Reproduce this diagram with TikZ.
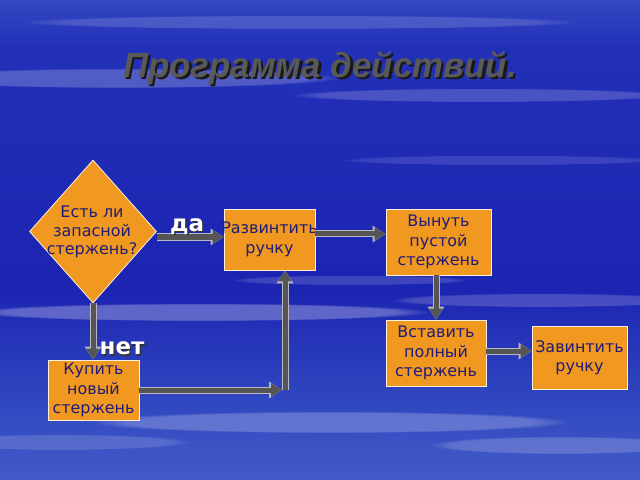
\documentclass[tikz,border=0pt]{standalone}
\usepackage{fontspec}
\setmainfont{DejaVu Sans}
\newfontfamily\titlefont{Liberation Sans}
\usetikzlibrary{shapes.geometric,arrows.meta,fadings}
\definecolor{boxfill}{HTML}{F0981F}
\definecolor{boxtext}{HTML}{201C78}
\definecolor{arrcol}{HTML}{555555}
\definecolor{arredge}{HTML}{B8B8C0}
\definecolor{sA}{HTML}{2A3AB2}
\definecolor{sB}{HTML}{4A62CA}
\definecolor{sC}{HTML}{3048C0}
\definecolor{sD}{HTML}{1C24B2}
\definecolor{sE}{HTML}{2230B8}
\definecolor{sF}{HTML}{4A68D0}
\definecolor{sG}{HTML}{6684DA}
\definecolor{sH}{HTML}{3E5CC8}
\pgfdeclareverticalshading{sky}{100bp}{color(0bp)=(sA); color(8bp)=(sB); color(22bp)=(sB); color(33bp)=(sC); color(45bp)=(sD); color(70bp)=(sE); color(82bp)=(sF); color(90bp)=(sG); color(100bp)=(sH)}
\newcommand{\shadowed}[3]{\makebox[0pt][l]{\hspace{#1}\raisebox{-#1}{\textcolor{#2}{#3}}}#3}
\tikzset{
  box/.style={rectangle, fill=boxfill, draw=white!85!boxfill, line width=0.8bp, align=center,
    text=boxtext, font=\fontsize{16}{19.5}\selectfont, inner sep=0pt},
  arr/.style={draw=arrcol, line width=5bp, -{Triangle[length=11bp,width=13bp]},
    preaction={draw=arredge, line width=7bp, -{Triangle[length=13bp,width=16bp]}}},
  lbl/.style={text=white, font=\bfseries\fontsize{23}{23}\selectfont, inner sep=0pt},
  cloud/.style={fill=white, path fading=circle with fuzzy edge 15 percent}
}
\begin{document}
\begin{tikzpicture}[x=1bp,y=-1bp]
\shade[shading=sky] (0,0) rectangle (640,480);
\useasboundingbox (0,0) rectangle (640,480);
% clouds
\fill[cloud, opacity=0.22] (120,78) ellipse (220 and 10);
\fill[cloud, opacity=0.18] (480,95) ellipse (190 and 7);
\fill[cloud, opacity=0.15] (300,22) ellipse (280 and 7);
\fill[cloud, opacity=0.12] (500,160) ellipse (160 and 5);
\fill[cloud, opacity=0.28] (200,312) ellipse (230 and 9);
\fill[cloud, opacity=0.18] (540,300) ellipse (150 and 7);
\fill[cloud, opacity=0.15] (350,280) ellipse (120 and 5);
\fill[cloud, opacity=0.22] (330,422) ellipse (240 and 11);
\fill[cloud, opacity=0.18] (560,445) ellipse (130 and 9);
\fill[cloud, opacity=0.15] (60,442) ellipse (130 and 8);
% title
\node[text=black!65, font=\titlefont\bfseries\itshape\fontsize{35}{35}\selectfont, inner sep=0pt] (title) at (320,69) {\shadowed{2.5bp}{black!90}{Программа действий.}};
% decision
\node[diamond, fill=boxfill, draw=white!85!boxfill, line width=0.8bp, minimum width=127bp, minimum height=143bp, inner sep=0pt] (d) at (93,231.5) {};
\node[align=center, text=boxtext, font=\fontsize{16}{18.5}\selectfont, inner sep=0pt] (dtext) at (92,232) {Есть ли\\запасной\\стержень?};
% boxes
\node[box, minimum width=91bp, minimum height=61bp] (razv) at (269.5,239.5) {\makebox[0pt]{Развинтить}\\ручку};
\node[box, minimum width=105bp, minimum height=66bp] (vyn) at (438.5,242) {Вынуть\\пустой\\стержень};
\node[box, minimum width=100bp, minimum height=66bp] (vst) at (436,353) {Вставить\\полный\\стержень};
\node[box, minimum width=95bp, minimum height=63bp] (zav) at (579.5,357.5) {Завинтить\\ручку};
\node[box, minimum width=91bp, minimum height=60bp] (kup) at (93.5,390) {Купить\\новый\\стержень};
\coordinate (turn) at (285,390);
% connectors
\draw[arr] ([yshift=-5.5bp]d.east) -- ([yshift=-5.5bp]d.east -| razv.west);
\draw[arr] ([yshift=5.5bp]razv.east) -- ([yshift=5.5bp]razv.east -| vyn.west);
\draw[arr] (vyn.south -| vst.north) -- (vst.north);
\draw[arr] ([yshift=2bp]vst.east) -- ([yshift=2bp]vst.east -| zav.west);
\draw[arr] (d.south) -- (d.south |- kup.north);
\draw[arr] (kup.east) -- ([xshift=-3bp]turn);
\draw[arr] (turn) -- (turn |- razv.south);
% labels
\node[lbl] (da) at (187,227) {\shadowed{1.5bp}{black!80}{да}};
\node[lbl] (net) at (122,349) {\shadowed{1.5bp}{black!80}{нет}};
\end{tikzpicture}
\end{document}
